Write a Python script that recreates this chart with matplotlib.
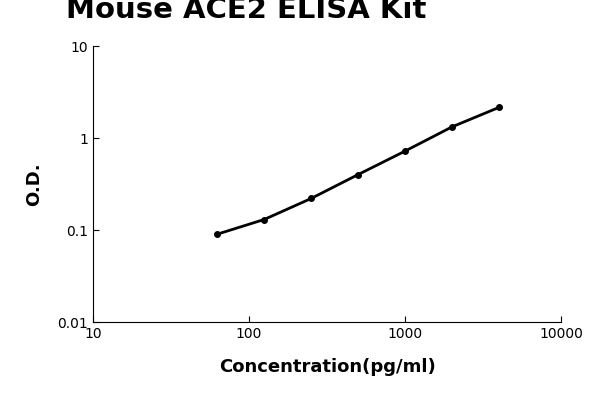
import matplotlib

matplotlib.use("Agg")
import matplotlib.pyplot as plt
from matplotlib.ticker import FixedLocator, NullLocator

concentration = [62.5, 125, 250, 500, 1000, 2000, 4000]
od = [0.09, 0.13, 0.22, 0.40, 0.72, 1.32, 2.15]
x_ticks = [10, 100, 1000, 10000]
x_labels = ["10", "100", "1000", "10000"]
y_ticks = [0.01, 0.1, 1, 10]
y_labels = ["0.01", "0.1", "1", "10"]

fig = plt.figure(figsize=(6, 4), dpi=100)
ax = fig.add_axes([0.155, 0.195, 0.78, 0.69])

ax.plot(concentration, od, color="black", lw=2, marker="o", ms=4)
ax.set_xscale("log")
ax.set_yscale("log")
ax.set_xlim(10, 10000)
ax.set_ylim(0.01, 10)
ax.xaxis.set_major_locator(FixedLocator(x_ticks))
ax.yaxis.set_major_locator(FixedLocator(y_ticks))
ax.xaxis.set_minor_locator(NullLocator())
ax.yaxis.set_minor_locator(NullLocator())
ax.set_xticklabels(x_labels, fontsize=10)
ax.set_yticklabels(y_labels, fontsize=10)
ax.tick_params(direction="in", length=4)
ax.spines["top"].set_visible(False)
ax.spines["right"].set_visible(False)

ax.set_xlabel("Concentration(pg/ml)", fontsize=13, fontweight="bold", labelpad=12)
ax.set_ylabel("O.D.", fontsize=13, fontweight="bold", labelpad=10)
fig.suptitle("Mouse ACE2 ELISA Kit", fontsize=21, fontweight="bold", x=0.41, y=1.01)

fig.savefig("out.png", dpi=100)
